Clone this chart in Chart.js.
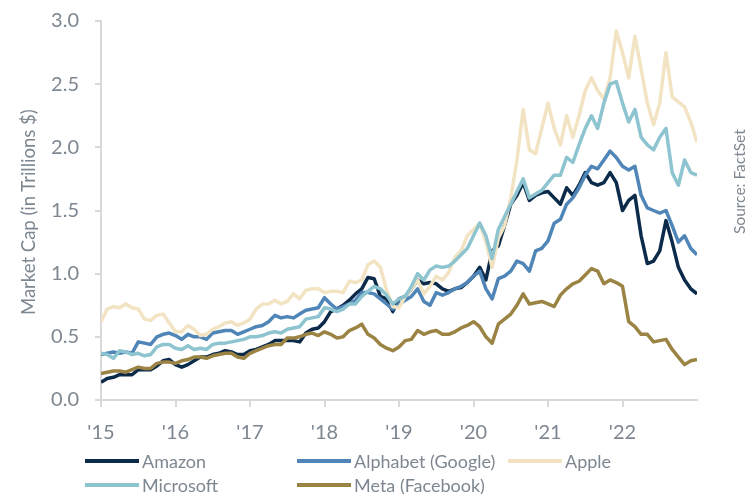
<!DOCTYPE html>
<html>
<head>
<meta charset="utf-8">
<script src="https://cdn.jsdelivr.net/npm/chart.js@4/dist/chart.umd.min.js"></script>
<style>
  html, body { margin: 0; padding: 0; background: #ffffff; }
  #wrap { position: relative; width: 747px; height: 494px; overflow: hidden; }
  #c { position: absolute; left: 0; top: -7px; }
  .vtext { position: absolute; writing-mode: vertical-rl; transform: rotate(180deg);
           text-align: center; font-family: Lato, sans-serif; color: #7d8791; white-space: nowrap; }
  .src { left: 729px; top: 82px; height: 200px; font-size: 15.5px; line-height: 20px; }
  .ytitle { left: 17px; top: 12px; height: 400px; font-size: 18.5px; line-height: 22px; }
  .leg { position: absolute; font-family: Lato, sans-serif; font-size: 18px; color: #7d8791; white-space: nowrap; }
  .leg span.ln { position: absolute; height: 4px; }
  .leg span.tx { position: absolute; transform: translateY(-50%); line-height: 1; }
</style>
</head>
<body>
<div id="wrap">
  <canvas id="c" width="747" height="501"></canvas>
  <div class="vtext ytitle">Market Cap (in Trillions $)</div>
  <div class="vtext src">Source: FactSet</div>
  <div id="legend"></div>
</div>
<script>
// ---- data (monthly, start of month, Jan 2015 .. Jan 2023) ----
const startYear = 2015;
const seriesNames = ['Amazon', 'Alphabet (Google)', 'Apple', 'Microsoft', 'Meta (Facebook)'];
const seriesColors = ['#0c2b4b', '#5086b7', '#f2e3c3', '#8dc4d0', '#9a8343'];
const yearTicks = [2015, 2016, 2017, 2018, 2019, 2020, 2021, 2022];
const yTicks = [0, 0.5, 1.0, 1.5, 2.0, 2.5, 3.0];

const amazon = [
  0.14,0.17,0.18,0.20,0.20,0.20,0.24,0.24,0.24,0.27,0.31,0.32,
  0.28,0.26,0.28,0.31,0.34,0.34,0.36,0.37,0.39,0.38,0.36,0.36,
  0.39,0.40,0.42,0.44,0.47,0.47,0.47,0.47,0.46,0.53,0.56,0.57,
  0.62,0.70,0.72,0.75,0.79,0.84,0.88,0.97,0.96,0.82,0.80,0.70,
  0.80,0.82,0.88,0.95,0.92,0.93,0.92,0.88,0.86,0.88,0.89,0.93,
  0.98,1.05,0.95,1.18,1.22,1.38,1.55,1.62,1.72,1.58,1.62,1.64,
  1.65,1.60,1.55,1.68,1.62,1.70,1.80,1.72,1.70,1.72,1.80,1.72,
  1.50,1.58,1.62,1.30,1.08,1.10,1.18,1.42,1.25,1.05,0.95,0.88,
  0.84
];
const alphabet = [
  0.36,0.37,0.38,0.37,0.38,0.37,0.46,0.45,0.44,0.50,0.52,0.53,
  0.51,0.48,0.52,0.50,0.50,0.48,0.53,0.54,0.55,0.55,0.52,0.54,
  0.56,0.58,0.59,0.62,0.67,0.65,0.66,0.65,0.68,0.71,0.72,0.73,
  0.81,0.76,0.72,0.74,0.76,0.79,0.85,0.85,0.84,0.80,0.76,0.72,
  0.76,0.79,0.82,0.88,0.78,0.75,0.85,0.83,0.85,0.88,0.90,0.93,
  0.98,1.02,0.88,0.80,0.96,0.98,1.02,1.10,1.08,1.02,1.18,1.20,
  1.26,1.40,1.43,1.55,1.60,1.68,1.78,1.85,1.83,1.90,1.97,1.92,
  1.85,1.82,1.85,1.62,1.52,1.50,1.48,1.50,1.38,1.25,1.30,1.20,
  1.15
];
const apple = [
  0.62,0.72,0.74,0.73,0.76,0.73,0.72,0.64,0.63,0.67,0.68,0.61,
  0.54,0.54,0.59,0.56,0.51,0.52,0.56,0.58,0.61,0.62,0.59,0.61,
  0.64,0.72,0.76,0.76,0.79,0.76,0.78,0.84,0.80,0.87,0.88,0.88,
  0.85,0.86,0.86,0.85,0.94,0.93,0.95,1.07,1.10,1.05,0.87,0.74,
  0.73,0.82,0.88,0.95,0.84,0.90,0.98,0.95,1.01,1.13,1.18,1.30,
  1.35,1.40,1.25,1.05,1.28,1.38,1.60,1.90,2.30,1.98,1.95,2.15,
  2.35,2.15,2.02,2.25,2.08,2.25,2.45,2.55,2.45,2.38,2.55,2.92,
  2.75,2.55,2.88,2.62,2.35,2.18,2.35,2.75,2.40,2.36,2.32,2.20,
  2.04
];
const microsoft = [
  0.37,0.36,0.33,0.39,0.38,0.36,0.37,0.35,0.36,0.42,0.44,0.44,
  0.41,0.40,0.43,0.40,0.41,0.40,0.44,0.45,0.45,0.46,0.47,0.48,
  0.50,0.50,0.51,0.53,0.54,0.53,0.56,0.57,0.58,0.64,0.65,0.66,
  0.73,0.72,0.70,0.72,0.76,0.76,0.82,0.86,0.90,0.88,0.83,0.76,
  0.80,0.82,0.90,1.00,0.95,1.03,1.06,1.05,1.06,1.10,1.15,1.20,
  1.30,1.40,1.30,1.12,1.35,1.45,1.55,1.65,1.75,1.60,1.63,1.66,
  1.72,1.78,1.78,1.92,1.88,2.02,2.15,2.25,2.15,2.35,2.50,2.52,
  2.35,2.20,2.30,2.08,2.02,1.98,2.08,2.15,1.80,1.70,1.90,1.80,
  1.78
];
const meta = [
  0.21,0.22,0.23,0.23,0.22,0.24,0.26,0.25,0.25,0.29,0.30,0.30,
  0.29,0.31,0.32,0.34,0.34,0.33,0.35,0.36,0.37,0.37,0.34,0.33,
  0.37,0.39,0.41,0.43,0.44,0.44,0.49,0.49,0.50,0.52,0.53,0.51,
  0.54,0.52,0.49,0.50,0.55,0.57,0.60,0.52,0.49,0.44,0.41,0.39,
  0.42,0.47,0.48,0.55,0.52,0.54,0.55,0.52,0.52,0.54,0.57,0.59,
  0.62,0.58,0.50,0.45,0.60,0.64,0.68,0.75,0.84,0.76,0.77,0.78,
  0.76,0.74,0.83,0.88,0.92,0.94,0.99,1.04,1.02,0.92,0.95,0.93,
  0.90,0.62,0.58,0.52,0.52,0.46,0.47,0.48,0.40,0.34,0.28,0.31,
  0.32
];
const seriesValues = [amazon, alphabet, apple, microsoft, meta];
const drawOrder = [5, 4, 3, 2, 1]; // lower = drawn on top

const TEXT = '#7d8791';
const AXIS = '#d9d9d9';

const datasets = seriesNames.map((name, s) => ({
  label: name,
  data: seriesValues[s].map((v, i) => ({ x: startYear + i / 12, y: v })),
  borderColor: seriesColors[s],
  backgroundColor: seriesColors[s],
  borderWidth: 3.5,
  pointRadius: 0,
  tension: 0,
  borderJoinStyle: 'round',
  order: drawOrder[s]
}));

new Chart(document.getElementById('c'), {
  type: 'line',
  data: { datasets },
  options: {
    responsive: false,
    animation: false,
    events: [],
    layout: { padding: { left: 0, right: 50, top: 14, bottom: 0 } },
    plugins: { legend: { display: false }, tooltip: { enabled: false } },
    scales: {
      x: {
        type: 'linear',
        min: 2015, max: 2023,
        afterBuildTicks: (scale) => { scale.ticks = yearTicks.map(v => ({ value: v })); },
        afterFit: (scale) => { scale.height = 94; },
        grid: { drawOnChartArea: false, drawTicks: true, tickLength: 7, color: AXIS, lineWidth: 2 },
        border: { color: AXIS, width: 2 },
        ticks: {
          padding: 14, color: TEXT, font: { family: 'Lato', size: 20 }, maxRotation: 0,
          callback: (v) => "'" + String(v).slice(2)
        }
      },
      y: {
        min: 0, max: 3,
        afterBuildTicks: (scale) => { scale.ticks = yTicks.map(v => ({ value: v })); },
        afterFit: (scale) => { scale.width = 101; },
        grid: { drawOnChartArea: false, drawTicks: true, tickLength: 6, color: AXIS, lineWidth: 2 },
        border: { color: AXIS, width: 2 },
        ticks: { padding: 16, color: TEXT, font: { family: 'Lato', size: 20 }, callback: (v) => v.toFixed(1) }
      }
    }
  }
});

// ---- legend (3 columns x 2 rows) ----
const legendSlots = [[85, 461], [297, 461], [508, 461], [85, 485], [297, 485]];
const legendEl = document.getElementById('legend');
seriesNames.forEach((name, s) => {
  const [lx, ly] = legendSlots[s];
  const item = document.createElement('div');
  item.className = 'leg';
  item.style.left = lx + 'px';
  item.style.top = ly + 'px';
  const ln = document.createElement('span');
  ln.className = 'ln';
  ln.style.left = '0px'; ln.style.top = '-2px'; ln.style.width = '54px';
  ln.style.background = seriesColors[s];
  const tx = document.createElement('span');
  tx.className = 'tx';
  tx.style.left = '57px'; tx.style.top = '0px';
  tx.textContent = name;
  item.appendChild(ln); item.appendChild(tx);
  legendEl.appendChild(item);
});
</script>
</body>
</html>
